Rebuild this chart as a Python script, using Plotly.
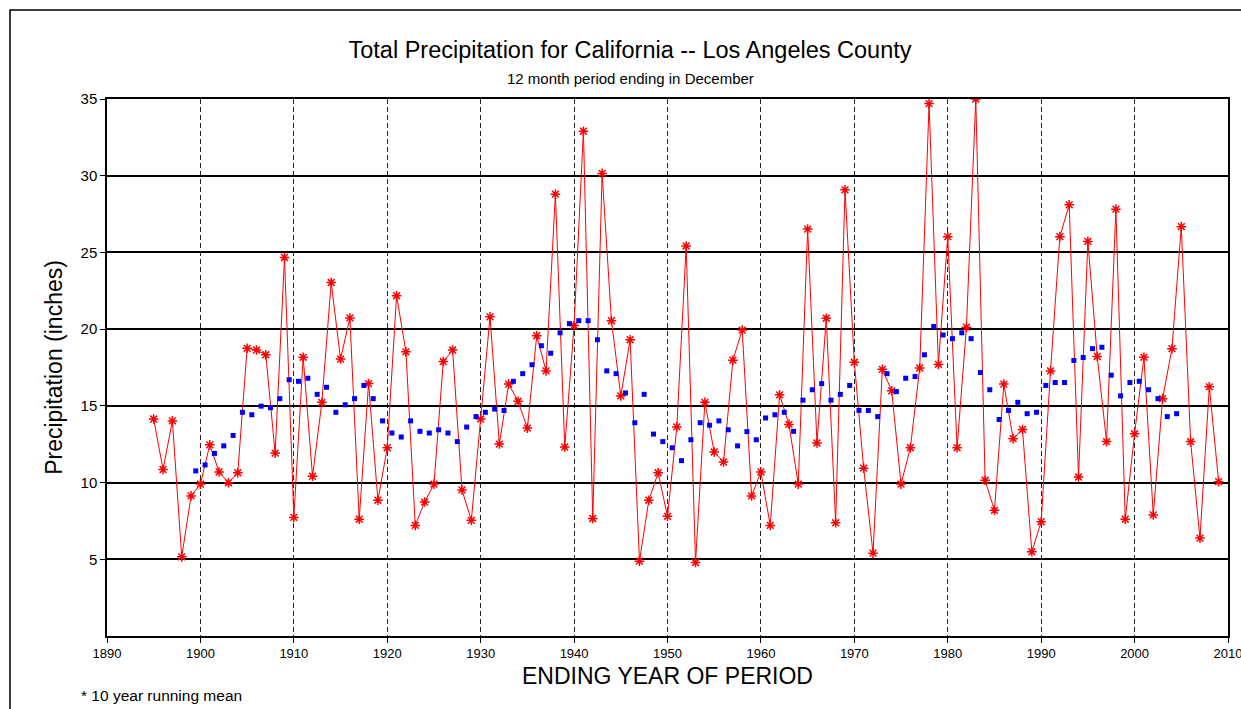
import plotly.graph_objects as go

years = list(range(1895, 2010))
precip = [
    14.14, 10.85, 14.02, 5.16, 9.13,            # 1895-1899
    9.90, 12.46, 10.69, 9.99, 10.64,            # 1900-1904
    18.75, 18.64, 18.33, 11.92, 24.67,          # 1905-1909
    7.73, 18.17, 10.41, 15.23, 23.04,           # 1910-1914
    18.05, 20.73, 7.61, 16.45, 8.85,            # 1915-1919
    12.27, 22.18, 18.52, 7.21, 8.73,            # 1920-1924
    9.90, 17.89, 18.64, 9.52, 7.54,             # 1925-1929
    14.14, 20.80, 12.51, 16.42, 15.30,          # 1930-1934
    13.55, 19.57, 17.28, 28.80, 12.32,          # 1935-1939
    20.24, 32.90, 7.66, 30.15, 20.55,           # 1940-1944
    15.65, 19.31, 4.88, 8.85, 10.64,            # 1945-1949
    7.80, 13.63, 25.42, 4.79, 15.23,            # 1950-1954
    11.99, 11.34, 17.98, 19.94, 9.13,           # 1955-1959
    10.69, 7.21, 15.72, 13.79, 9.90,            # 1960-1964
    26.52, 12.58, 20.71, 7.38, 29.08,           # 1965-1969
    17.84, 10.94, 5.40, 17.38, 15.98,           # 1970-1974
    9.90, 12.27, 17.47, 34.70, 17.70,           # 1975-1979
    26.03, 12.27, 20.13, 35.00, 10.15,          # 1980-1984
    8.19, 16.42, 12.86, 13.46, 5.49,            # 1985-1989
    7.45, 17.28, 26.03, 28.10, 10.36,           # 1990-1994
    25.72, 18.22, 12.67, 27.82, 7.61,           # 1995-1999
    13.18, 18.17, 7.89, 15.47, 18.73,           # 2000-2004
    26.68, 12.67, 6.38, 16.24, 10.06,           # 2005-2009
]

mean_x = [y + 0.5 for y in range(1899, 2005)]
running_mean = [
    10.76,                                      # 1899.5
    11.15, 11.90, 12.39, 13.07, 14.58,          # 1900.5-1904.5
    14.42, 14.98, 14.88, 15.47, 16.70,          # 1905.5-1909.5
    16.60, 16.80, 15.75, 16.21, 14.58,          # 1910.5-1914.5
    15.07, 15.47, 16.33, 15.47, 14.02,          # 1915.5-1919.5
    13.23, 12.97, 14.02, 13.34, 13.23,          # 1920.5-1924.5
    13.44, 13.23, 12.67, 13.62, 14.30,          # 1925.5-1929.5
    14.58, 14.79, 14.70, 16.60, 17.10,          # 1930.5-1934.5
    17.68, 18.92, 18.43, 19.76, 20.36,          # 1935.5-1939.5
    20.55, 20.55, 19.31, 17.28, 17.10,          # 1940.5-1944.5
    15.84, 13.90, 15.75, 13.16, 12.67,          # 1945.5-1949.5
    12.27, 11.43, 12.79, 13.90, 13.74,          # 1950.5-1954.5
    14.02, 13.44, 12.39, 13.32, 12.79,          # 1955.5-1959.5
    14.21, 14.42, 14.58, 13.34, 15.37,          # 1960.5-1964.5
    16.05, 16.45, 15.37, 15.75, 16.33,          # 1965.5-1969.5
    14.70, 14.70, 14.30, 17.10, 15.93,          # 1970.5-1974.5
    16.80, 16.91, 18.33, 20.17, 19.62,          # 1975.5-1979.5
    19.38, 19.76, 19.38, 17.17, 16.05,          # 1980.5-1984.5
    14.11, 14.70, 15.23, 14.49, 14.58,          # 1985.5-1989.5
    16.33, 16.52, 16.52, 17.96, 18.15,          # 1990.5-1994.5
    18.73, 18.82, 17.00, 15.65, 16.52,          # 1995.5-1999.5
    16.60, 16.05, 15.47, 14.30, 14.49,          # 2000.5-2004.5
]

x_ticks = list(range(1890, 2011, 10))
y_ticks = [5, 10, 15, 20, 25, 30, 35]

FONT = "Liberation Sans, Arial, sans-serif"

W, H = 1241, 709
PL, PR, PT, PB = 107, 1228, 99, 636          # plot area in window pixels
ML, MT = PL, PT
MR = W - PR
MB = H - PB
PW, PH = PR - PL, PB - PT


def px(xw):
    return (xw - PL) / PW


def py(yw):
    return (PB - yw) / PH


fig = go.Figure()
fig.add_trace(go.Scatter(
    x=years, y=precip, mode="lines+markers",
    line=dict(color="#ff0000", width=1),
    marker=dict(symbol="asterisk-open", size=8, color="#ff0000",
                line=dict(color="#ff0000", width=1.5)),
    showlegend=False,
))
fig.add_trace(go.Scatter(
    x=mean_x, y=running_mean, mode="markers",
    marker=dict(symbol="square", size=5, color="#0000ff", line=dict(width=0)),
    showlegend=False,
))

fig.update_layout(
    width=W, height=H,
    margin=dict(l=ML, r=MR, t=MT, b=MB, autoexpand=False),
    paper_bgcolor="white", plot_bgcolor="white",
    font=dict(family=FONT, color="black"),
    title=dict(
        text="Total Precipitation for California -- Los Angeles County",
        x=630 / W, xanchor="center", y=1 - 50 / H, yanchor="middle",
        font=dict(size=23.5, family=FONT, color="black"),
    ),
    xaxis=dict(
        range=[1890, 2010], tickvals=x_ticks, ticktext=[str(v) for v in x_ticks],
        showgrid=True, gridcolor="#222222", gridwidth=1, griddash="5px,3px",
        showline=True, linecolor="black", linewidth=1.5, mirror=True,
        ticks="outside", ticklen=5, tickcolor="black",
        tickfont=dict(size=13, family=FONT),
        ticklabeloverflow="allow", automargin=False,
        zeroline=False,
        title=dict(text="ENDING YEAR OF PERIOD", font=dict(size=23, family=FONT), standoff=8),
    ),
    yaxis=dict(
        range=[0, 35], tickvals=y_ticks, ticktext=[str(v) for v in y_ticks],
        showgrid=True, gridcolor="black", gridwidth=1.5,
        showline=True, linecolor="black", linewidth=1.5, mirror=True,
        ticks="outside", ticklen=5, tickcolor="black",
        tickfont=dict(size=15, family=FONT),
        automargin=False,
        zeroline=False,
        title=dict(text="Precipitation (inches)", font=dict(size=23, family=FONT), standoff=12),
    ),
    annotations=[
        dict(text="12 month period ending in December", xref="paper", yref="paper",
             x=px(630), y=py(78), xanchor="center", yanchor="middle",
             showarrow=False, font=dict(size=15, family=FONT)),
        dict(text="* 10 year running mean", xref="paper", yref="paper",
             x=px(79), y=py(695), xanchor="left", yanchor="middle",
             showarrow=False, font=dict(size=15.5, family=FONT)),
    ],
    shapes=[
        dict(type="rect", xref="paper", yref="paper",
             x0=px(10), x1=px(1260), y0=py(730), y1=py(10),
             line=dict(color="black", width=1.5), fillcolor="rgba(0,0,0,0)", layer="below"),
    ],
)

fig.write_html(
    "out.html",
    config={"displayModeBar": False},
    post_script="document.body.style.margin='0';document.body.style.overflow='hidden';",
)
